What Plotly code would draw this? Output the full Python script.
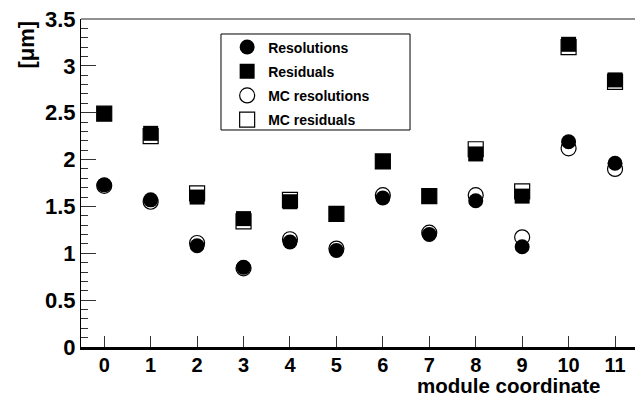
import plotly.graph_objects as go

# Per-module values, in micrometres
modules = list(range(12))
resolutions = [1.73, 1.57, 1.08, 0.85, 1.12, 1.03, 1.59, 1.20, 1.56, 1.07, 2.19, 1.96]
residuals = [2.49, 2.28, 1.60, 1.37, 1.55, 1.42, 1.98, 1.61, 2.06, 1.61, 3.23, 2.85]
mc_resolutions = [1.72, 1.55, 1.11, 0.84, 1.15, 1.05, 1.62, 1.22, 1.62, 1.17, 2.12, 1.90]
mc_residuals = [2.49, 2.25, 1.64, 1.34, 1.57, 1.42, 1.98, 1.61, 2.11, 1.66, 3.20, 2.83]

FONT = "Liberation Sans, Arial, sans-serif"
MS = 15

fig = go.Figure()

# Simulation drawn first (open markers), measurements on top
fig.add_trace(go.Scatter(
    x=modules, y=mc_resolutions, mode="markers", name="MC resolutions",
    legendgroup="c", legendrank=3,
    marker=dict(symbol="circle", size=MS, color="white", line=dict(color="black", width=1.2)),
))
fig.add_trace(go.Scatter(
    x=modules, y=mc_residuals, mode="markers", name="MC residuals",
    legendgroup="d", legendrank=4,
    marker=dict(symbol="square", size=MS, color="white", line=dict(color="black", width=1.2)),
))
fig.add_trace(go.Scatter(
    x=modules, y=resolutions, mode="markers", name="Resolutions",
    legendgroup="a", legendrank=1,
    marker=dict(symbol="circle", size=MS, color="black", line=dict(color="black", width=0)),
))
fig.add_trace(go.Scatter(
    x=modules, y=residuals, mode="markers", name="Residuals",
    legendgroup="b", legendrank=2,
    marker=dict(symbol="square", size=MS, color="black", line=dict(color="black", width=0)),
))

fig.update_layout(
    width=635, height=396,
    margin=dict(l=81, r=0, t=19, b=49),
    plot_bgcolor="white", paper_bgcolor="white",
    font=dict(family=FONT, color="black"),
    showlegend=True,
    legend=dict(
        x=0.262, y=0.962, xanchor="left", yanchor="top",
        bgcolor="rgba(0,0,0,0)", borderwidth=0,
        font=dict(family=FONT, size=14, color="black", weight="bold"),
        tracegroupgap=3, itemwidth=32,
    ),
    xaxis=dict(
        range=[-0.5, 11.43], tickmode="linear", tick0=0, dtick=1,
        ticks="inside", ticklen=11, tickwidth=1, tickcolor="#333",
        showgrid=False, zeroline=False,
        showline=True, linecolor="black", linewidth=2.5,
        tickfont=dict(family=FONT, size=20, weight="bold"),
        ticklabelstandoff=-2,
    ),
    yaxis=dict(
        range=[0, 3.5], tickmode="linear", tick0=0, dtick=0.5,
        ticks="inside", ticklen=15, tickwidth=1, tickcolor="#333",
        minor=dict(ticks="inside", ticklen=7, dtick=0.1, tickcolor="#333", tickwidth=1, showgrid=False),
        showgrid=False, zeroline=False,
        showline=True, linecolor="black", linewidth=1,
        tickfont=dict(family=FONT, size=22, weight="bold"),
    ),
    shapes=[
        dict(type="line", xref="paper", yref="paper", x0=0, x1=1, y0=1, y1=1,
             line=dict(color="#222", width=1)),
        # legend frame
        dict(type="rect", xref="paper", yref="paper", x0=0.2527, x1=0.5939, y0=0.6616, y1=0.9543,
             line=dict(color="black", width=1), fillcolor="white", layer="below"),
    ],
    annotations=[
        dict(text="module coordinate", xref="paper", yref="paper", x=0.938, y=-0.079,
             xanchor="right", yanchor="top", showarrow=False, borderpad=0,
             font=dict(family=FONT, size=20.5, weight="bold")),
        dict(text="[μm]", xref="paper", yref="paper", x=-0.1, y=1.0,
             xanchor="center", yanchor="top", textangle=-90, showarrow=False,
             font=dict(family=FONT, size=22, weight="bold")),
    ],
)

fig.write_html("out.html")
